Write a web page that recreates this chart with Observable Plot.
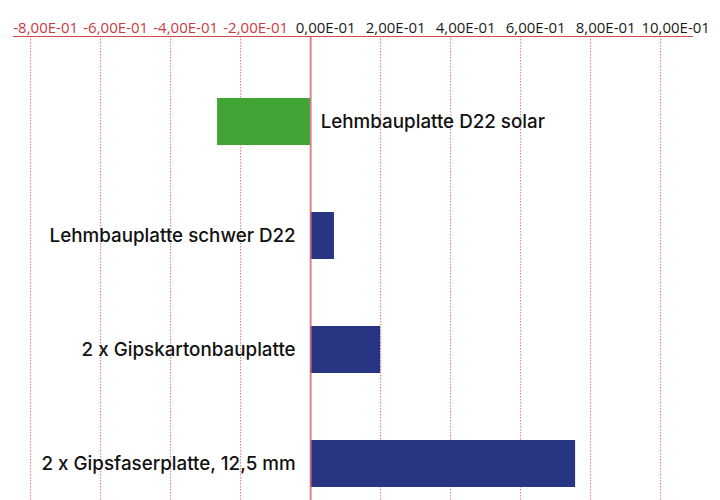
<!DOCTYPE html>
<html>
<head>
<meta charset="utf-8">
<script src="https://cdn.jsdelivr.net/npm/d3@7"></script>
<script src="https://cdn.jsdelivr.net/npm/@observablehq/plot@0.6"></script>
<style>
  html, body { margin: 0; padding: 0; background: #fff; }
  #chart svg { display: block; }
</style>
</head>
<body>
<div id="chart"></div>
<script>
const categories = [
  "Lehmbauplatte D22 solar",
  "Lehmbauplatte schwer D22",
  "2 x Gipskartonbauplatte",
  "2 x Gipsfaserplatte, 12,5 mm"
];
const values = [-0.266, 0.068, 0.2, 0.757];
const barColors = ["#41a535", "#283583", "#283583", "#283583"];
const tickValues = [-0.8, -0.6, -0.4, -0.2, 0, 0.2, 0.4, 0.6, 0.8, 1.0];

const data = categories.map((name, i) => ({name, value: values[i], color: barColors[i]}));
const fmt = v => {
  const m = Math.round(v * 10);
  return m + ",00E-01";
};
const red = "#c93a3f";
const font = "Inter, 'DejaVu Sans', sans-serif";

const chart = Plot.plot({
  width: 720,
  height: 500,
  marginTop: 36,
  marginBottom: 0,
  marginLeft: 13,
  marginRight: 28,
  style: {fontFamily: font, background: "#fff"},
  x: {domain: [-0.849, 1.091], axis: null},
  y: {domain: categories, range: [63.75, 521.75], paddingInner: 0.585, paddingOuter: 0.2925, axis: null},
  marks: [
    Plot.gridX(tickValues, {stroke: "#d9545a", strokeOpacity: 0.8, strokeDasharray: "1.5,1.5", strokeWidth: 1}),
    Plot.barX(data, {x: "value", y: "name", fill: "color"}),
    Plot.ruleX([0], {stroke: "#d7707a", strokeOpacity: 0.8, strokeWidth: 2}),
    Plot.frame({anchor: "top", stroke: "#d24a50", strokeWidth: 1.2}),
    Plot.text(tickValues, {x: d => d, text: fmt, frameAnchor: "top", dy: -14, dx: 15, fontSize: 15,
      fontFamily: "'Open Sans', sans-serif", fill: d => d < 0 ? red : "#1a1a1a",
      style: "letter-spacing:0.6px"}),
    Plot.text(data.filter(d => d.value >= 0), {x: 0, y: "name", text: "name", textAnchor: "end", dx: -15,
      fontSize: 18.8, fontWeight: 500, fill: "#111"}),
    Plot.text(data.filter(d => d.value < 0), {x: 0, y: "name", text: "name", textAnchor: "start", dx: 10,
      fontSize: 18.8, fontWeight: 500, fill: "#111"})
  ]
});
document.getElementById("chart").append(chart);
</script>
</body>
</html>
